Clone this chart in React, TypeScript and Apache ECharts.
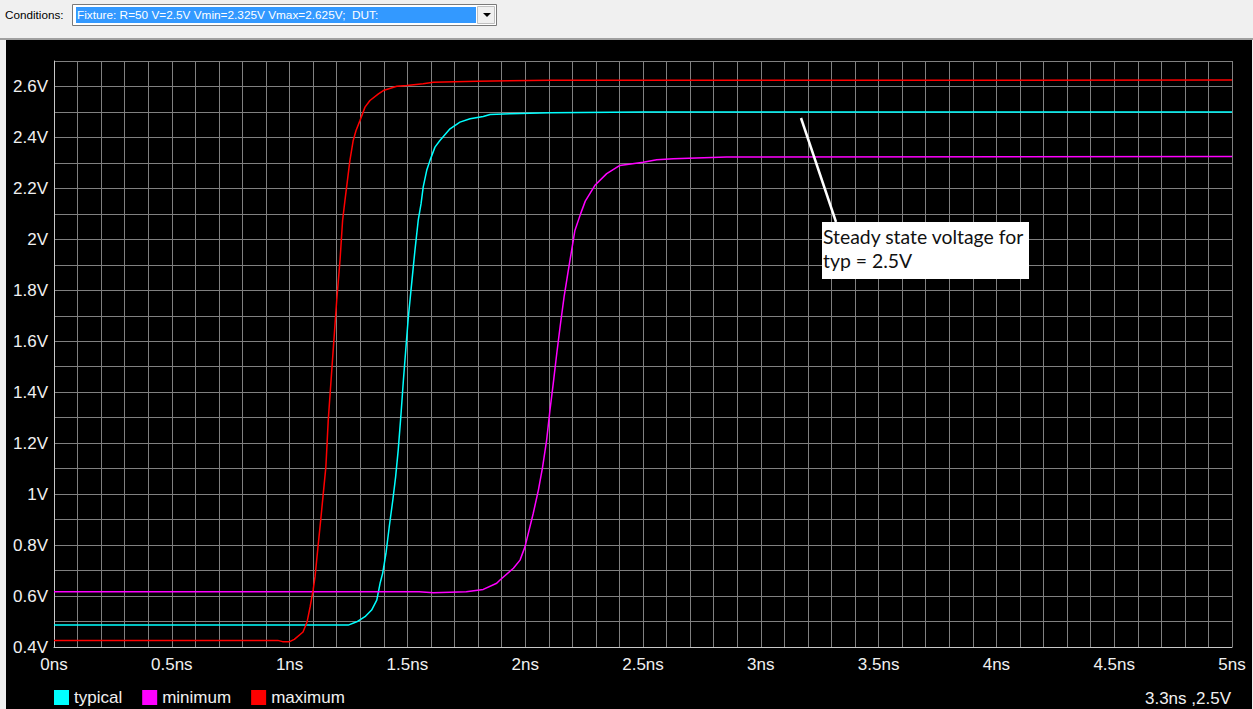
import React, { useEffect, useRef } from "react";
import * as echarts from "echarts";

// time in ns, voltage in V
const typicalT = [0, 1.249, 1.285, 1.32, 1.348, 1.37, 1.384, 1.395, 1.409, 1.423, 1.438, 1.45, 1.461, 1.472, 1.483, 1.494, 1.504, 1.518, 1.532, 1.546, 1.558, 1.567, 1.582, 1.596, 1.617, 1.638, 1.681, 1.723, 1.766, 1.822, 1.851, 1.935, 2.105, 2.5, 5];
const typicalV = [0.486, 0.486, 0.499, 0.519, 0.545, 0.584, 0.65, 0.689, 0.767, 0.872, 0.976, 1.068, 1.173, 1.303, 1.447, 1.578, 1.695, 1.826, 1.957, 2.075, 2.14, 2.205, 2.271, 2.31, 2.362, 2.388, 2.434, 2.46, 2.473, 2.482, 2.49, 2.493, 2.497, 2.5, 2.5];

const minimumT = [0, 1.55, 1.61, 1.75, 1.822, 1.879, 1.893, 1.95, 1.978, 1.999, 2.034, 2.056, 2.074, 2.091, 2.105, 2.119, 2.134, 2.148, 2.165, 2.183, 2.197, 2.211, 2.235, 2.255, 2.296, 2.346, 2.402, 2.501, 2.558, 2.629, 2.855, 5];
const minimumV = [0.617, 0.617, 0.613, 0.617, 0.626, 0.65, 0.663, 0.709, 0.741, 0.793, 0.924, 1.016, 1.107, 1.212, 1.329, 1.434, 1.552, 1.656, 1.774, 1.878, 1.957, 2.035, 2.1, 2.15, 2.212, 2.258, 2.29, 2.303, 2.312, 2.316, 2.323, 2.325];

const maximumT = [0, 0.95, 0.97, 1.0, 1.02, 1.057, 1.074, 1.087, 1.1, 1.108, 1.122, 1.132, 1.143, 1.154, 1.164, 1.174, 1.186, 1.2, 1.214, 1.225, 1.235, 1.242, 1.256, 1.27, 1.282, 1.299, 1.32, 1.341, 1.377, 1.398, 1.455, 1.497, 1.567, 1.61, 1.794, 2.105, 5];
const maximumV = [0.426, 0.426, 0.421, 0.421, 0.43, 0.459, 0.498, 0.557, 0.624, 0.676, 0.807, 0.898, 1.003, 1.107, 1.29, 1.421, 1.578, 1.761, 1.918, 2.075, 2.153, 2.205, 2.31, 2.388, 2.427, 2.467, 2.519, 2.545, 2.571, 2.584, 2.601, 2.604, 2.611, 2.617, 2.621, 2.624, 2.625];

const seriesNames = ["typical", "minimum", "maximum"];
const seriesColors = ["#00ffff", "#ff00ff", "#ff0000"];

const conditionsText = "Fixture: R=50 V=2.5V Vmin=2.325V Vmax=2.625V;  DUT:";
const annotationText = "Steady state voltage for\ntyp = 2.5V";
const cursorText = "3.3ns ,2.5V";

const pairs = (t: number[], v: number[]) => t.map((x, i) => [x, v[i]]);

export default function App() {
  const ref = useRef<HTMLDivElement>(null);
  useEffect(() => {
    document.body.style.margin = "0";
    const chart = echarts.init(ref.current!, undefined, { renderer: "svg" });
    const font = "Liberation Sans, Arial, sans-serif";
    const labelColor = "#f0f0f0";
    const datasets = [pairs(typicalT, typicalV), pairs(minimumT, minimumV), pairs(maximumT, maximumV)];
    chart.setOption({
      animation: false,
      backgroundColor: "#000000",
      grid: { left: 54, right: 21, top: 61, bottom: 62, containLabel: false },
      xAxis: {
        type: "value",
        min: 0,
        max: 5,
        interval: 0.1,
        axisLine: { show: true, onZero: false, lineStyle: { color: "#c8c8c8", width: 1 } },
        axisTick: { show: false },
        splitLine: { show: true, lineStyle: { color: "#808080", width: 1 } },
        axisLabel: {
          color: labelColor,
          fontSize: 17,
          fontFamily: font,
          margin: 9,
          formatter: (v: number) => {
            const k = Math.round(v * 10);
            return k % 5 === 0 ? `${k / 10}ns` : "";
          },
        },
      },
      yAxis: {
        type: "value",
        min: 0.4,
        max: 2.7,
        interval: 0.1,
        axisLine: { show: true, onZero: false, lineStyle: { color: "#c8c8c8", width: 1 } },
        axisTick: { show: false },
        splitLine: { show: true, lineStyle: { color: "#808080", width: 1 } },
        axisLabel: {
          color: labelColor,
          fontSize: 17,
          fontFamily: font,
          margin: 6,
          formatter: (v: number) => {
            const k = Math.round(v * 10);
            return k % 2 === 0 ? `${k / 10}V` : "";
          },
        },
      },
      legend: {
        data: seriesNames,
        left: 54,
        top: 689,
        icon: "rect",
        itemWidth: 15,
        itemHeight: 15,
        itemGap: 20,
        padding: 0,
        textStyle: { color: labelColor, fontSize: 17, fontFamily: font },
      },
      series: seriesNames.map((name, i) => ({
        name,
        type: "line",
        data: datasets[i],
        showSymbol: false,
        symbol: "none",
        color: seriesColors[i],
        itemStyle: { color: seriesColors[i] },
        lineStyle: { color: seriesColors[i], width: 1.5 },
        z: 3 + i,
      })),
      graphic: [
        { type: "rect", shape: { x: 0, y: 0, width: 1253, height: 38 }, style: { fill: "#f0f0f0" }, z: 100 },
        { type: "rect", shape: { x: 0, y: 38, width: 1253, height: 2 }, style: { fill: "#a0a0a0" }, z: 100 },
        { type: "rect", shape: { x: 0, y: 40, width: 6, height: 669 }, style: { fill: "#f0f0f0" }, z: 100 },
        { type: "rect", shape: { x: 1252, y: 40, width: 1, height: 669 }, style: { fill: "#f0f0f0" }, z: 100 },
        {
          type: "text",
          x: 5,
          y: 14,
          style: { text: "Conditions:", fill: "#000", font: `11.7px ${font}`, verticalAlign: "middle" },
          z: 101,
        },
        { type: "rect", shape: { x: 72.5, y: 4.5, width: 424, height: 21 }, style: { fill: "#ffffff", stroke: "#7a7a7a", lineWidth: 1 }, z: 101 },
        { type: "rect", shape: { x: 76, y: 7, width: 400, height: 16 }, style: { fill: "#3399ff" }, z: 102 },
        {
          type: "text",
          x: 77,
          y: 15,
          style: { text: conditionsText, fill: "#ffffff", font: `11.8px ${font}`, verticalAlign: "middle" },
          z: 103,
        },
        { type: "rect", shape: { x: 477.5, y: 6.5, width: 17, height: 17 }, style: { fill: "#f0f0f0", stroke: "#c0c0c0", lineWidth: 1 }, z: 102 },
        { type: "polygon", shape: { points: [[483, 13], [491, 13], [487, 17]] }, style: { fill: "#000" }, z: 103 },
        { type: "line", shape: { x1: 801, y1: 118, x2: 836, y2: 222 }, style: { stroke: "#ffffff", lineWidth: 2.5 }, z: 110 },
        { type: "rect", shape: { x: 822, y: 222, width: 207, height: 57 }, style: { fill: "#ffffff" }, z: 110 },
        {
          type: "text",
          x: 823,
          y: 224,
          style: { text: annotationText, fill: "#111", font: `19.4px Lato, sans-serif`, lineHeight: 24 },
          z: 111,
        },
        {
          type: "text",
          x: 1231,
          y: 698,
          style: { text: cursorText, fill: labelColor, font: `17px ${font}`, align: "right", verticalAlign: "middle" },
          z: 110,
        },
      ],
    });
    return () => chart.dispose();
  }, []);
  return <div ref={ref} style={{ position: "absolute", left: 0, top: 0, width: 1253, height: 709 }} />;
}
